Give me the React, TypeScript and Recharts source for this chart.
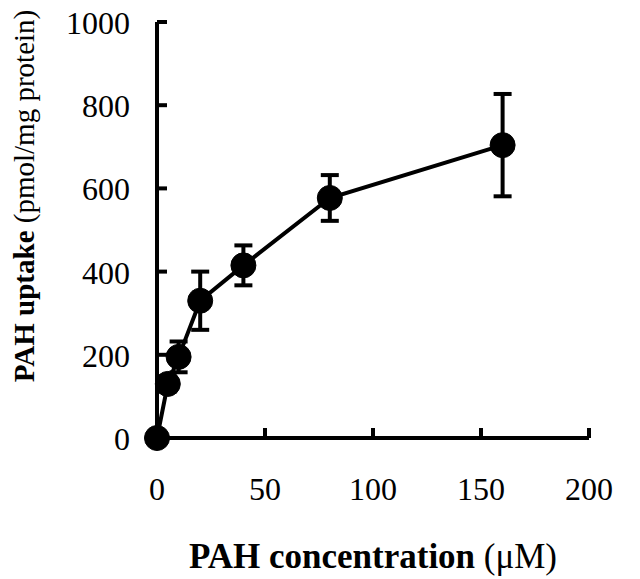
import { LineChart, Line, XAxis, YAxis, ErrorBar } from "recharts";

const concentration = [0, 5, 10, 20, 40, 80, 160];
const uptake = [0, 130, 195, 330, 415, 577, 704];
const uptakeSd = [0, 18, 37, 70, 48, 55, 123];
const xTicks = [0, 50, 100, 150, 200];
const yTicks = [0, 200, 400, 600, 800, 1000];

const data = concentration.map((c, i) => ({ conc: c, uptake: uptake[i], sd: uptakeSd[i] }));

const FONT = "'Liberation Serif', 'Times New Roman', serif";

const XTick = (props: any) => {
  const { x, y, payload } = props;
  return (
    <g>
      <line x1={x} y1={y} x2={x} y2={y - 10} stroke="#000" strokeWidth={4} />
      <text x={x} y={y + 62} textAnchor="middle" fontFamily={FONT} fontSize={32} fill="#000">
        {payload.value}
      </text>
    </g>
  );
};

const YTick = (props: any) => {
  const { x, y, payload } = props;
  return (
    <g>
      <line x1={x} y1={y} x2={x + 10} y2={y} stroke="#000" strokeWidth={4} />
      <text x={x - 27} y={y + 12} textAnchor="end" fontFamily={FONT} fontSize={32} fill="#000">
        {payload.value}
      </text>
    </g>
  );
};

export default function App() {
  return (
    <div style={{ position: "absolute", left: 0, top: 0, width: 640, height: 579, background: "#fff" }}>
      <LineChart width={640} height={579} data={data} margin={{ top: 22, right: 51, left: 0, bottom: 0 }}>
        <XAxis
          dataKey="conc"
          type="number"
          domain={[0, 200]}
          ticks={xTicks}
          height={141}
          tickSize={0}
          tickMargin={0}
          tickLine={false}
          axisLine={{ stroke: "#000", strokeWidth: 4 }}
          tick={<XTick />}
          label={{
            content: (p: any) => {
              const vb = p.viewBox;
              return (
                <text
                  x={vb.x + vb.width / 2}
                  y={vb.y + 130}
                  textAnchor="middle"
                  fontFamily={FONT}
                  fontSize={35}
                  fill="#000"
                >
                  <tspan fontWeight="bold">PAH concentration</tspan>
                  <tspan> (μM)</tspan>
                </text>
              );
            },
          }}
        />
        <YAxis
          type="number"
          domain={[0, 1000]}
          ticks={yTicks}
          width={157}
          tickSize={0}
          tickMargin={0}
          tickLine={false}
          axisLine={{ stroke: "#000", strokeWidth: 4 }}
          tick={<YTick />}
          label={{
            content: (p: any) => {
              const vb = p.viewBox;
              const cx = 34;
              const cy = vb.y + vb.height / 2 - 34;
              return (
                <text
                  x={cx}
                  y={cy}
                  transform={`rotate(-90, ${cx}, ${cy})`}
                  textAnchor="middle"
                  fontFamily={FONT}
                  fontSize={29}
                  fill="#000"
                >
                  <tspan fontWeight="bold">PAH uptake</tspan>
                  <tspan> (pmol/mg protein)</tspan>
                </text>
              );
            },
          }}
        />
        <Line
          dataKey="uptake"
          stroke="#000"
          strokeWidth={4}
          isAnimationActive={false}
          dot={{ r: 12.5, fill: "#000", stroke: "#000", strokeWidth: 1 }}
          activeDot={false}
        >
          <ErrorBar dataKey="sd" direction="y" width={9} stroke="#000" strokeWidth={4} />
        </Line>
      </LineChart>
    </div>
  );
}
